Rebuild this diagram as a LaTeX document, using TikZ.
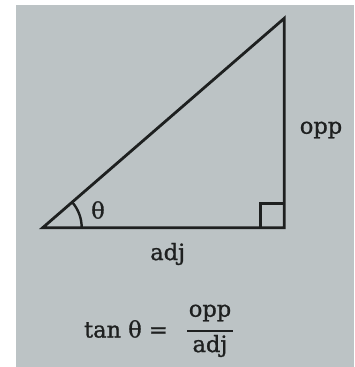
\documentclass[tikz,border=0pt]{standalone}
\usepackage{fontspec}
\setmainfont[FakeBold=1.2]{DejaVu Serif}
\definecolor{paper}{RGB}{188,195,197}
\definecolor{ink}{RGB}{30,32,32}
\begin{document}
\begin{tikzpicture}[x=1pt,y=1pt,
  side/.style={draw=ink,line width=2.8pt,line join=miter},
  lbl/.style={text=ink,font=\fontsize{22.5}{26}\selectfont,inner sep=0pt}]
\useasboundingbox (0,0) rectangle (354,367);
\fill[white] (0,0) rectangle (354,367);
\fill[paper] (16,0) rectangle (354,362);
\coordinate (A) at (42.7,139.3);
\coordinate (B) at (284.3,139.3);
\coordinate (C) at (284.3,348.7);
\draw[side] (A) -- (B) -- (C) -- cycle;
\draw[draw=ink,line width=2.4pt] ([xshift=-24pt]B) -- ++(0,24) -- ++(24,0);
\draw[draw=ink,line width=2.4pt] ([xshift=39pt]A) arc[start angle=0,end angle=40.9,radius=39];
\node[lbl] (theta) at (98,157) {θ};
\node[lbl] (opp) at (321,237) {opp};
\node[lbl] (adj) at (167.7,113) {adj};
\node[lbl,anchor=east] (tan) at (168,38) {tan θ =};
\node[lbl] (num) at (210,54) {opp};
\node[lbl] (den) at (210,21) {adj};
\draw[draw=ink,line width=2pt] (187,36) -- (233,36);
\end{tikzpicture}
\end{document}
